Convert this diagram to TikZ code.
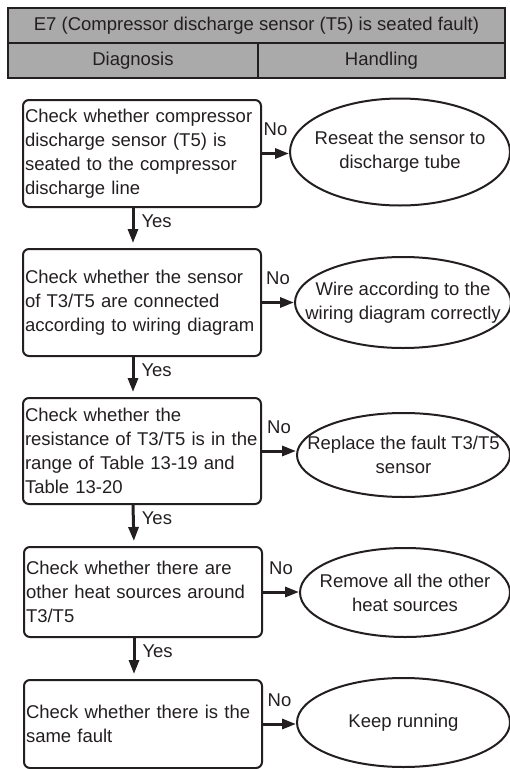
\documentclass[tikz,border=0pt]{standalone}
\usepackage{fontspec}
\setmainfont{Liberation Sans}
\usetikzlibrary{shapes.geometric,arrows.meta}
\definecolor{ink}{RGB}{35,31,32}
\definecolor{headgray}{RGB}{170,170,170}
\begin{document}
\begin{tikzpicture}[x=1pt,y=-1pt,
  every node/.style={font=\fontsize{18.5}{24}\selectfont,text=ink},
  cell/.style={draw=ink,line width=2pt,fill=headgray,minimum height=35pt,inner sep=0pt},
  chk/.style={draw=ink,line width=2pt,rounded corners=6pt,minimum width=238pt,text width=234pt,align=left,inner xsep=2pt,inner ysep=5pt},
  act/.style={draw=ink,line width=2pt,ellipse,inner sep=0pt},
  acttxt/.style={align=center,inner sep=0pt},
  flow/.style={draw=ink,line width=3pt,-{Triangle[length=14pt,width=10pt]}},
  tag/.style={inner sep=2pt}]
\useasboundingbox (0,0) rectangle (510,769);
% header
\node[cell,minimum width=497pt] (title) at (256.5,25.5) {E7 (Compressor discharge sensor (T5) is seated fault)};
\node[cell,minimum width=250pt] (diag) at (133,60.5) {Diagnosis};
\node[cell,minimum width=247pt] (hand) at (381.5,60.5) {Handling};
% diagnosis steps
\node[chk,minimum height=107pt] (c1) at (142,153.5) {Check whether compressor\\discharge sensor (T5) is\\seated to the compressor\\discharge line};
\node[chk,minimum height=107pt] (c2) at (142,302.5) {Check whether the sensor\\of T3/T5 are connected\\according to wiring diagram};
\node[chk,minimum height=106pt] (c3) at (142,451) {Check whether the\\resistance of T3/T5 is in the\\range of Table 13-19 and\\Table 13-20};
\node[chk,minimum height=90pt] (c4) at (143,592) {Check whether there are\\other heat sources around\\T3/T5};
\node[chk,minimum height=88pt] (c5) at (143,724) {Check whether there is the\\same fault};
% handling
\node[act,minimum width=220pt,minimum height=107pt] (a1) at (400,152) {};
\node[act,minimum width=216pt,minimum height=91pt] (a2) at (403,302.5) {};
\node[act,minimum width=213pt,minimum height=84pt] (a3) at (403.5,455) {};
\node[act,minimum width=210pt,minimum height=89pt] (a4) at (405,592.5) {};
\node[act,minimum width=213pt,minimum height=89pt] (a5) at (403.5,722.5) {};
\node[acttxt] (t1) at (a1) {Reseat the sensor to\\discharge tube};
\node[acttxt] (t2) at (a2) {Wire according to the\\wiring diagram correctly};
\node[acttxt] (t3) at (a3) {Replace the fault T3/T5\\sensor};
\node[acttxt] (t4) at (a4) {Remove all the other\\heat sources};
\node[acttxt] (t5) at (a5) {Keep running};
% connectors
\foreach \a/\b in {c1/c2,c2/c3,c3/c4,c4/c5}
  \draw[flow,shorten >=5pt] ([xshift=-9pt]\a.south) -- ([xshift=-9pt]\b.north)
    node[tag,pos=0.33,right=5pt] {Yes};
\foreach \a/\b in {c1/a1,c2/a2,c3/a3,c4/a4,c5/a5}
  \draw[flow] (\a.east) -- (\a.east -| \b.west)
    node[tag,midway,yshift=24pt] {No};
\end{tikzpicture}
\end{document}
